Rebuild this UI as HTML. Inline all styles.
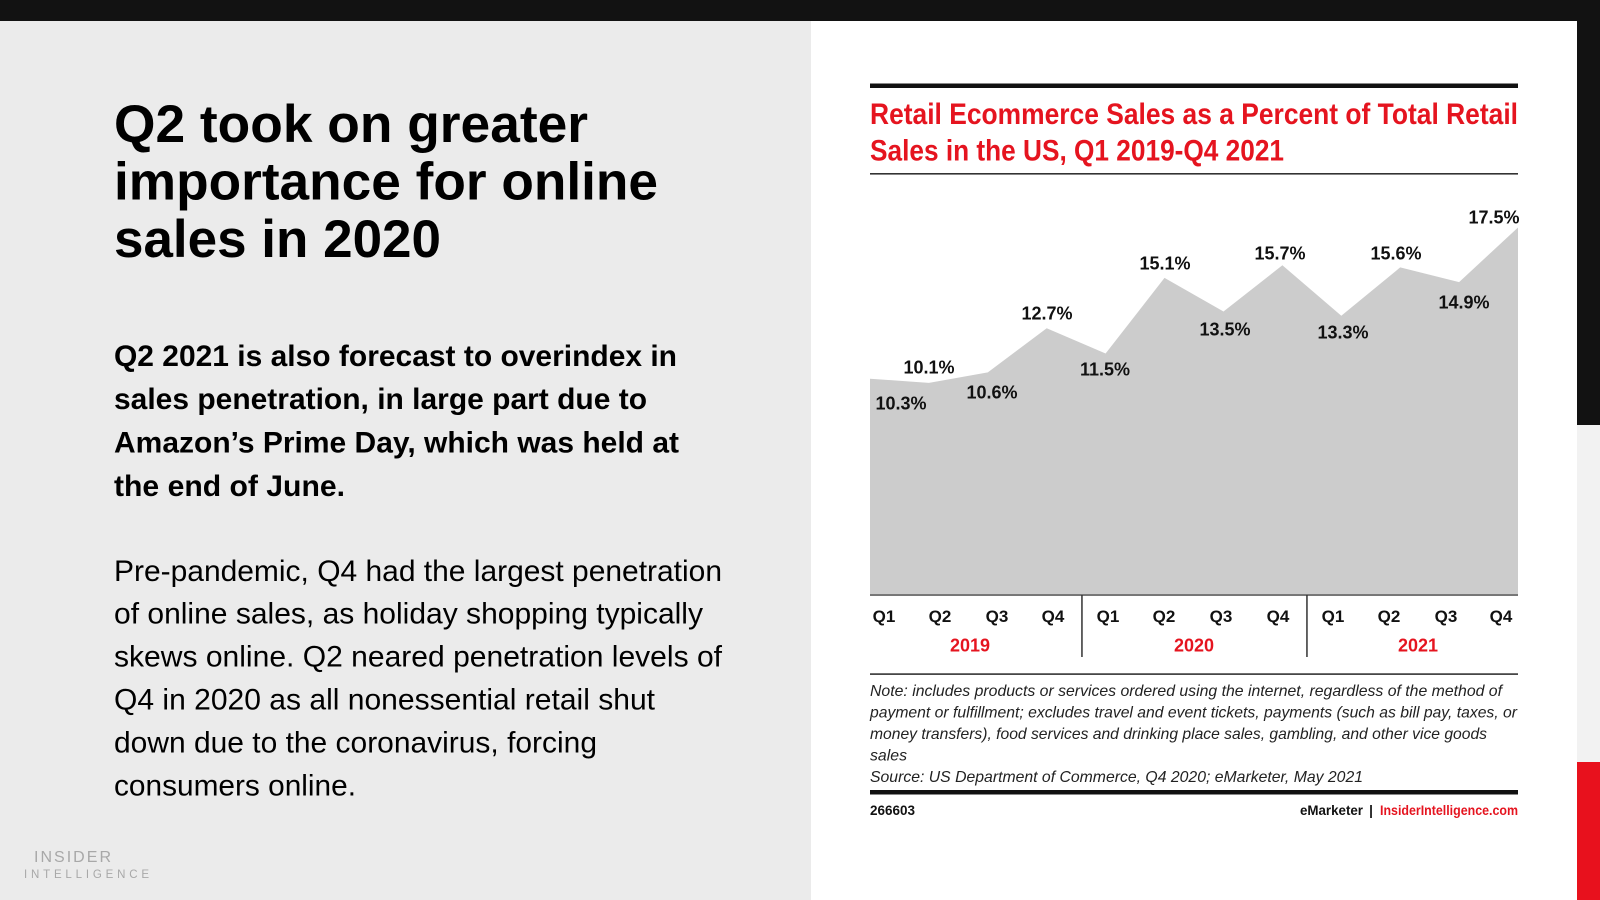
<!DOCTYPE html>
<html>
<head>
<meta charset="utf-8">
<style>
  html, body { margin: 0; padding: 0; width: 1600px; height: 900px; overflow: hidden; background: #ebebeb; }
  svg { display: block; }
  .h { font-family: "Liberation Sans", Arial, sans-serif; font-weight: bold; fill: #000; }
  .p { font-family: "Liberation Sans", Arial, sans-serif; fill: #000; }
  .c { font-family: "Liberation Sans", Arial, sans-serif; }
</style>
</head>
<body>
<svg width="1600" height="900" viewBox="0 0 1600 900" xmlns="http://www.w3.org/2000/svg">
  <!-- backgrounds -->
  <rect x="0" y="0" width="1600" height="900" fill="#ebebeb"/>
  <rect x="811" y="21" width="766" height="879" fill="#ffffff"/>
  <rect x="0" y="0" width="1600" height="21" fill="#121212"/>
  <rect x="1577" y="0" width="23" height="425" fill="#121212"/>
  <rect x="1577" y="425" width="23" height="337" fill="#f2f2f2"/>
  <rect x="1577" y="762" width="23" height="138" fill="#e8111d"/>

  <!-- left heading -->
  <text class="h" font-size="53" x="114" y="142" textLength="474" lengthAdjust="spacingAndGlyphs">Q2 took on greater</text>
  <text class="h" font-size="53" x="114" y="199.5" textLength="544" lengthAdjust="spacingAndGlyphs">importance for online</text>
  <text class="h" font-size="53" x="114" y="257" textLength="327" lengthAdjust="spacingAndGlyphs">sales in 2020</text>

  <!-- bold paragraph -->
  <text class="h" font-size="30" x="114" y="366" textLength="563" lengthAdjust="spacingAndGlyphs">Q2 2021 is also forecast to overindex in</text>
  <text class="h" font-size="30" x="114" y="409" textLength="533" lengthAdjust="spacingAndGlyphs">sales penetration, in large part due to</text>
  <text class="h" font-size="30" x="114" y="452.5" textLength="565" lengthAdjust="spacingAndGlyphs">Amazon’s Prime Day, which was held at</text>
  <text class="h" font-size="30" x="114" y="496" textLength="231" lengthAdjust="spacingAndGlyphs">the end of June.</text>

  <!-- regular paragraph -->
  <text class="p" font-size="30" x="114" y="581" textLength="608" lengthAdjust="spacingAndGlyphs">Pre-pandemic, Q4 had the largest penetration</text>
  <text class="p" font-size="30" x="114" y="623.5" textLength="589" lengthAdjust="spacingAndGlyphs">of online sales, as holiday shopping typically</text>
  <text class="p" font-size="30" x="114" y="666.5" textLength="608" lengthAdjust="spacingAndGlyphs">skews online. Q2 neared penetration levels of</text>
  <text class="p" font-size="30" x="114" y="709.5" textLength="541" lengthAdjust="spacingAndGlyphs">Q4 in 2020 as all nonessential retail shut</text>
  <text class="p" font-size="30" x="114" y="752.5" textLength="483" lengthAdjust="spacingAndGlyphs">down due to the coronavirus, forcing</text>
  <text class="p" font-size="30" x="114" y="795.5" textLength="242" lengthAdjust="spacingAndGlyphs">consumers online.</text>

  <!-- logo -->
  <text class="p" font-size="16" x="34" y="862" style="fill:#a8a8a8" textLength="77" lengthAdjust="spacing">INSIDER</text>
  <text class="p" font-size="11.5" x="24" y="878" style="fill:#a8a8a8" textLength="125" lengthAdjust="spacing">INTELLIGENCE</text>

  <!-- chart header -->
  <rect x="870" y="83.5" width="648" height="4.5" fill="#111"/>
  <text class="c" font-size="30" font-weight="bold" fill="#e5141f" x="870" y="124" textLength="648" lengthAdjust="spacingAndGlyphs">Retail Ecommerce Sales as a Percent of Total Retail</text>
  <text class="c" font-size="30" font-weight="bold" fill="#e5141f" x="870" y="160.5" textLength="414" lengthAdjust="spacingAndGlyphs">Sales in the US, Q1 2019-Q4 2021</text>
  <rect x="870" y="173" width="648" height="1.6" fill="#333"/>

  <!-- area -->
  <polygon fill="#cccccc" points="870,595 870,378.7 928.9,382.9 987.8,372.4 1046.7,328.3 1105.6,353.5 1164.5,277.9 1223.5,311.5 1282.4,265.3 1341.3,315.7 1400.2,267.4 1459.1,282.1 1518,227.5 1518,595"/>
  <rect x="870" y="594.3" width="648" height="1.5" fill="#555"/>

  <!-- data labels -->
  <g class="c" font-size="18" font-weight="bold" fill="#111" text-anchor="middle">
    <text x="901" y="409.5">10.3%</text>
    <text x="929" y="373.5">10.1%</text>
    <text x="992" y="398.5">10.6%</text>
    <text x="1047" y="319.5">12.7%</text>
    <text x="1105" y="375.5">11.5%</text>
    <text x="1165" y="269.5">15.1%</text>
    <text x="1225" y="335.5">13.5%</text>
    <text x="1280" y="259.5">15.7%</text>
    <text x="1343" y="338.5">13.3%</text>
    <text x="1396" y="259.5">15.6%</text>
    <text x="1464" y="308.5">14.9%</text>
    <text x="1494" y="223.5">17.5%</text>
  </g>

  <!-- x axis labels -->
  <g class="c" font-size="17" font-weight="bold" fill="#111" text-anchor="middle">
    <text x="884" y="622">Q1</text>
    <text x="940" y="622">Q2</text>
    <text x="997" y="622">Q3</text>
    <text x="1053" y="622">Q4</text>
    <text x="1108" y="622">Q1</text>
    <text x="1164" y="622">Q2</text>
    <text x="1221" y="622">Q3</text>
    <text x="1278" y="622">Q4</text>
    <text x="1333" y="622">Q1</text>
    <text x="1389" y="622">Q2</text>
    <text x="1446" y="622">Q3</text>
    <text x="1501" y="622">Q4</text>
  </g>
  <g class="c" font-size="18" font-weight="bold" fill="#e5141f" text-anchor="middle">
    <text x="970" y="651.5">2019</text>
    <text x="1194" y="651.5">2020</text>
    <text x="1418" y="651.5">2021</text>
  </g>
  <rect x="1081.2" y="595" width="1.5" height="62" fill="#333"/>
  <rect x="1306.2" y="595" width="1.5" height="62" fill="#333"/>

  <!-- note -->
  <rect x="870" y="673.3" width="648" height="1.6" fill="#333"/>
  <g class="c" font-size="16" font-style="italic" fill="#222">
    <text x="870" y="696" textLength="632" lengthAdjust="spacingAndGlyphs">Note: includes products or services ordered using the internet, regardless of the method of</text>
    <text x="870" y="717.5" textLength="647" lengthAdjust="spacingAndGlyphs">payment or fulfillment; excludes travel and event tickets, payments (such as bill pay, taxes, or</text>
    <text x="870" y="739" textLength="617" lengthAdjust="spacingAndGlyphs">money transfers), food services and drinking place sales, gambling, and other vice goods</text>
    <text x="870" y="760.5" textLength="37" lengthAdjust="spacingAndGlyphs">sales</text>
    <text x="870" y="782" textLength="493" lengthAdjust="spacingAndGlyphs">Source: US Department of Commerce, Q4 2020; eMarketer, May 2021</text>
  </g>
  <rect x="870" y="790" width="648" height="4.5" fill="#111"/>

  <!-- footer -->
  <g class="c" font-size="13.5" font-weight="bold">
    <text x="870" y="815" fill="#111" textLength="45" lengthAdjust="spacingAndGlyphs">266603</text>
    <text x="1300" y="815" fill="#111" textLength="63" lengthAdjust="spacingAndGlyphs">eMarketer</text>
    <text x="1371" y="815" fill="#111" text-anchor="middle">|</text>
    <text x="1380" y="815" fill="#e5141f" textLength="138" lengthAdjust="spacingAndGlyphs">InsiderIntelligence.com</text>
  </g>
</svg>
</body>
</html>
